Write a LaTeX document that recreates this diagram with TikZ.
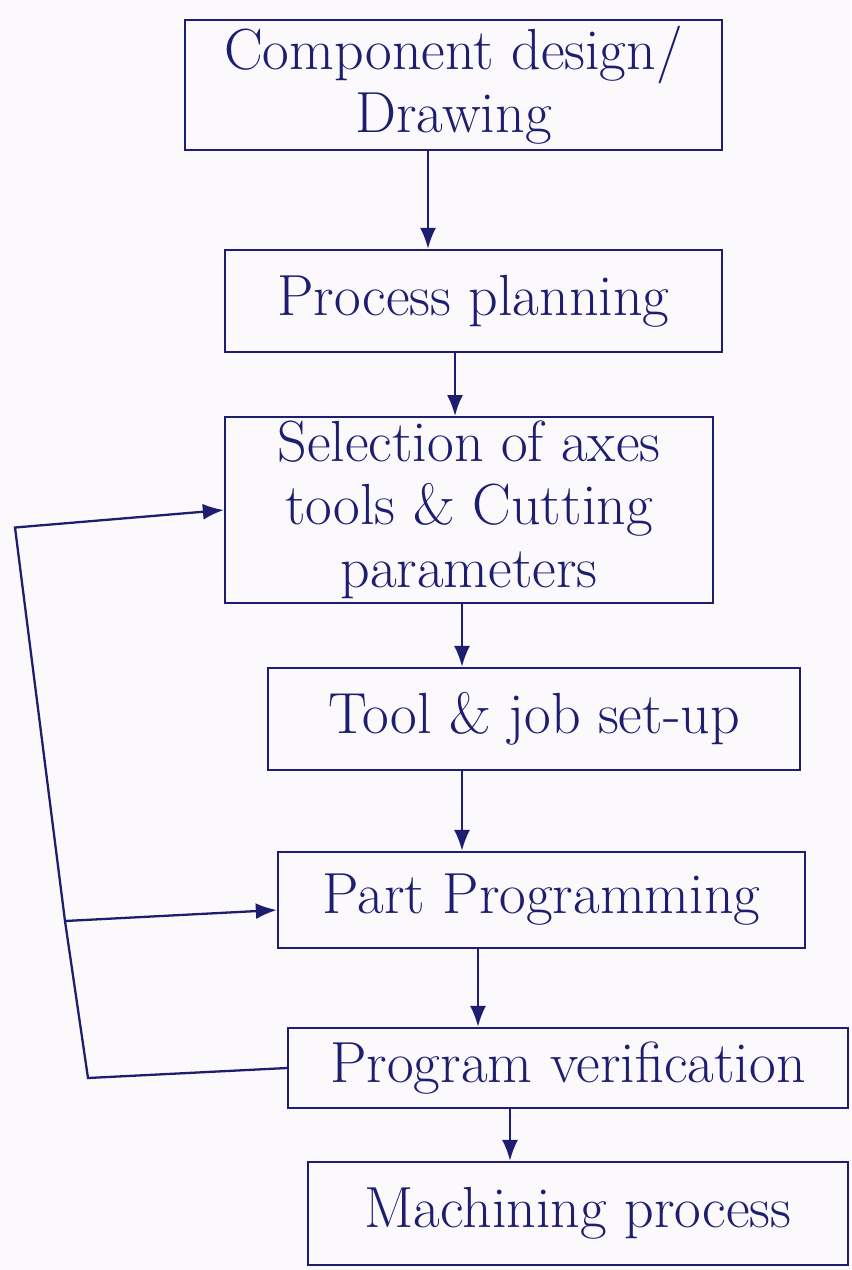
\documentclass[tikz,border=0pt]{standalone}
\usetikzlibrary{arrows.meta, positioning}

\definecolor{ink}{RGB}{30,30,112}
\definecolor{paper}{RGB}{251,249,252}

\begin{document}
\begin{tikzpicture}[
    block/.style={rectangle, draw=ink, line width=1.3pt, text=ink, align=center, inner sep=2pt, font=\fontsize{33}{36}\selectfont},
    line/.style={draw=ink, line width=1.3pt, -{Latex[length=0.42cm, width=0.32cm]}}
]
    % Page
    \fill[paper] (0,0) rectangle (17.02,-25.4);
    \useasboundingbox (0,0) rectangle (17.02,-25.4);

    % Nodes
    \node[block, minimum width=10.74cm, minimum height=2.6cm] (design) at (9.07,-1.70) {Component design/\\Drawing};
    \node[block, minimum width=9.94cm, minimum height=2.04cm] (planning) at (9.47,-6.02) {Process planning};
    \node[block, minimum width=9.76cm, minimum height=3.6cm] (selection) at (9.38,-10.2) {Selection of axes\\tools \& Cutting\\parameters};
    \node[block, minimum width=10.64cm, minimum height=2.04cm] (setup) at (10.68,-14.38) {Tool \& job set-up};
    \node[block, minimum width=10.54cm, minimum height=1.92cm] (programming) at (10.83,-18.0) {Part Programming};
    \node[block, minimum width=11.2cm, minimum height=1.6cm] (verification) at (11.36,-21.36) {Program verification};
    \node[block, minimum width=10.8cm, minimum height=2.06cm] (machining) at (11.56,-24.27) {Machining process};

    % Feedback corners
    \coordinate (fb-bottom) at (1.76,-21.56);
    \coordinate (fb-join) at (1.3,-18.42);
    \coordinate (fb-top) at (0.3,-10.55);

    % Arrows
    \path[line] ([xshift=-0.51cm]design.south) -- ([xshift=-0.51cm]design.south |- planning.north);
    \path[line] ([xshift=-0.37cm]planning.south) -- ([xshift=-0.37cm]planning.south |- selection.north);
    \path[line] ([xshift=-0.14cm]selection.south) -- ([xshift=-0.14cm]selection.south |- setup.north);
    \path[line] ([xshift=-1.44cm]setup.south) -- ([xshift=-1.44cm]setup.south |- programming.north);
    \path[line] ([xshift=-1.27cm]programming.south) -- ([xshift=-1.27cm]programming.south |- verification.north);
    \path[line] ([xshift=-1.16cm]verification.south) -- ([xshift=-1.16cm]verification.south |- machining.north);

    % Feedback loop
    \draw[ink, line width=1.3pt] (verification.west) -- (fb-bottom) -- (fb-join);
    \path[line] (fb-join) -- ([yshift=-0.2cm]programming.west);
    \path[line] (fb-join) -- (fb-top) -- (selection.west);

\end{tikzpicture}
\end{document}
